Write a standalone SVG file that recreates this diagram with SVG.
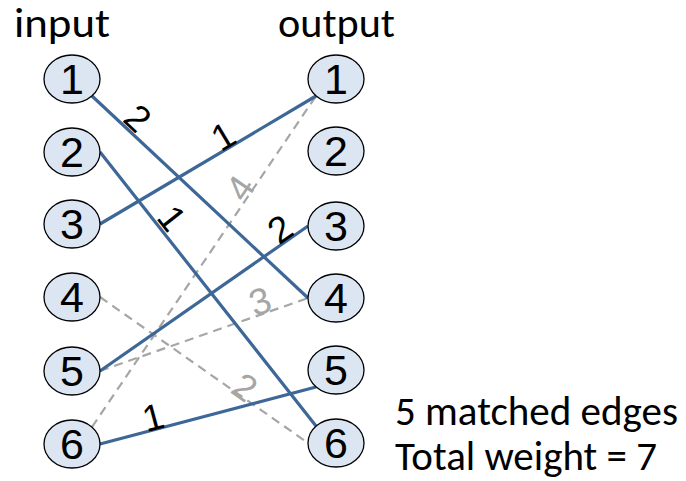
<svg xmlns="http://www.w3.org/2000/svg" width="686" height="481" viewBox="0 0 686 481">
  <style>
    .node ellipse { fill: #dce6f2; stroke: #000; stroke-width: 1.3; }
    .node text { font-family: "Liberation Sans", Arial, sans-serif; font-size: 43px; fill: #000; text-anchor: middle; }
    .match { stroke: #3d6797; stroke-width: 3.2; fill: none; }
    .other { stroke: #a6a6a6; stroke-width: 2.2; stroke-dasharray: 9 6; fill: none; }
    .w { font-family: "Liberation Sans", Arial, sans-serif; font-size: 37px; text-anchor: middle; }
    .wm { fill: #000; }
    .wo { fill: #a6a6a6; }
    .title { font-family: Carlito, Lato, "Liberation Sans", sans-serif; font-size: 40px; fill: #000; }
  </style>

  <!-- headings -->
  <text class="title" x="14" y="37" textLength="96" lengthAdjust="spacingAndGlyphs">input</text>
  <text class="title" x="278" y="37" textLength="117" lengthAdjust="spacingAndGlyphs">output</text>

  <!-- edges -->
  <g id="connectors">
    <!-- unmatched (dashed) -->
    <line class="other" x1="92" y1="427" x2="316" y2="96"/>
    <line class="other" x1="100" y1="371" x2="308" y2="298"/>
    <line class="other" x1="100" y1="297" x2="308" y2="443"/>
    <!-- matched (solid) -->
    <line class="match" x1="92" y1="96" x2="308" y2="298"/>
    <line class="match" x1="100" y1="152" x2="316" y2="426"/>
    <line class="match" x1="100" y1="224" x2="316" y2="96"/>
    <line class="match" x1="100" y1="371" x2="308" y2="226"/>
    <line class="match" x1="100" y1="444" x2="316" y2="387"/>

    <!-- weights -->
    <text class="w wm" transform="translate(138,118) rotate(43)" y="13">2</text>
    <text class="w wm" transform="translate(223,136) rotate(-31)" y="13">1</text>
    <text class="w wm" transform="translate(172,218) rotate(52)" y="13">1</text>
    <text class="w wm" transform="translate(280,229) rotate(-35)" y="13">2</text>
    <text class="w wm" transform="translate(153,417) rotate(-15)" y="13">1</text>
    <text class="w wo" transform="translate(240,188) rotate(-56)" y="13">4</text>
    <text class="w wo" transform="translate(260,301) rotate(-19)" y="13">3</text>
    <text class="w wo" transform="translate(245,387) rotate(35)" y="13">2</text>
  </g>

  <!-- input nodes -->
  <g id="in1" class="node"><ellipse cx="72" cy="79" rx="28" ry="24"/><text x="72" y="94">1</text></g>
  <g id="in2" class="node"><ellipse cx="72" cy="152" rx="28" ry="24"/><text x="72" y="167">2</text></g>
  <g id="in3" class="node"><ellipse cx="72" cy="224" rx="28" ry="24"/><text x="72" y="239">3</text></g>
  <g id="in4" class="node"><ellipse cx="72" cy="297" rx="28" ry="24"/><text x="72" y="312">4</text></g>
  <g id="in5" class="node"><ellipse cx="72" cy="371" rx="28" ry="24"/><text x="72" y="386">5</text></g>
  <g id="in6" class="node"><ellipse cx="72" cy="444" rx="28" ry="24"/><text x="72" y="459">6</text></g>

  <!-- output nodes -->
  <g id="out1" class="node"><ellipse cx="336" cy="79" rx="28" ry="24"/><text x="336" y="94">1</text></g>
  <g id="out2" class="node"><ellipse cx="336" cy="151" rx="28" ry="24"/><text x="336" y="166">2</text></g>
  <g id="out3" class="node"><ellipse cx="336" cy="226" rx="28" ry="24"/><text x="336" y="241">3</text></g>
  <g id="out4" class="node"><ellipse cx="336" cy="298" rx="28" ry="24"/><text x="336" y="313">4</text></g>
  <g id="out5" class="node"><ellipse cx="336" cy="370" rx="28" ry="24"/><text x="336" y="385">5</text></g>
  <g id="out6" class="node"><ellipse cx="336" cy="443" rx="28" ry="24"/><text x="336" y="458">6</text></g>

  <!-- summary -->
  <text class="title" x="395" y="425" textLength="283" lengthAdjust="spacingAndGlyphs">5 matched edges</text>
  <text class="title" x="395" y="470" textLength="262" lengthAdjust="spacingAndGlyphs">Total weight = 7</text>
</svg>
